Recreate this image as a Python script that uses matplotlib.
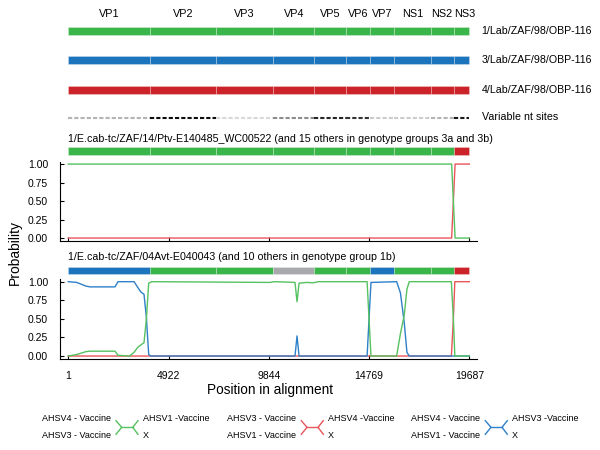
import matplotlib
matplotlib.use('Agg')
import matplotlib.pyplot as plt

plt.rcParams['font.family'] = ['Liberation Sans', 'DejaVu Sans']

# Data
genes = ['VP1', 'VP2', 'VP3', 'VP4', 'VP5', 'VP6', 'VP7', 'NS1', 'NS2', 'NS3']
gene_bounds = [1, 4000, 7270, 10055, 12085, 13610, 14820, 16005, 17800, 18960, 19687]
ref_strains = ['1/Lab/ZAF/98/OBP-116', '3/Lab/ZAF/98/OBP-116', '4/Lab/ZAF/98/OBP-116']
var_density = [0.3, 0.95, 0.15, 0.45, 0.85, 0.8, 0.2, 0.2, 0.3, 0.9]
xticks = [1, 4922, 9844, 14769, 19687]
yticks = [0.0, 0.25, 0.5, 0.75, 1.0]

p1_title = '1/E.cab-tc/ZAF/14/Ptv-E140485_WC00522 (and 15 others in genotype groups 3a and 3b)'
p1_segments = ['g', 'g', 'g', 'g', 'g', 'g', 'g', 'g', 'g', 'r']
p1_pos = [1, 18820, 18905, 18990, 19687]
p1_green = [1.0, 1.0, 0.5, 0.0, 0.0]
p1_red = [0.0, 0.0, 0.5, 1.0, 1.0]

p2_title = '1/E.cab-tc/ZAF/04Avt-E040043 (and 10 others in genotype group 1b)'
p2_segments = ['b', 'g', 'g', 'x', 'g', 'g', 'b', 'g', 'g', 'r']
p2_blue_pos = [1, 410, 880, 1066, 2293, 2441, 3232, 3418, 3570, 3718, 3835, 3948, 4050,
               11130, 11230, 11330, 14670, 14765, 14860, 16120, 16305, 16493, 16626, 16740, 19687]
p2_blue = [1.00, 0.99, 0.94, 0.93, 0.93, 1.00, 1.00, 0.92, 0.86, 0.83, 0.52, 0.02, 0.0,
           0.0, 0.27, 0.0, 0.0, 0.5, 0.99, 1.0, 0.85, 0.45, 0.05, 0.0, 0.0]
p2_green_pos = [1, 410, 880, 1066, 2293, 2441, 3000, 3232, 3418, 3570, 3718, 3835, 3948, 4100,
                9900, 10100, 11130, 11230, 11330, 11700, 12000, 12300, 14670, 14765, 14860,
                16120, 16305, 16493, 16626, 16740, 18807, 18905, 18977, 19687]
p2_green = [0.0, 0.02, 0.06, 0.065, 0.065, 0.01, 0.0, 0.05, 0.12, 0.15, 0.18, 0.5, 0.98, 1.0,
            0.99, 1.0, 0.99, 0.73, 0.98, 0.99, 0.985, 1.0, 1.0, 0.5, 0.0,
            0.0, 0.3, 0.55, 0.9, 1.0, 1.0, 0.5, 0.0, 0.0]
p2_red_pos = [1, 18807, 18905, 18977, 19687]
p2_red = [0.0, 0.0, 0.5, 1.0, 1.0]

legend_groups = [
    ('AHSV4 - Vaccine', 'AHSV3 - Vaccine', 'AHSV1 -Vaccine', 'X'),
    ('AHSV3 - Vaccine', 'AHSV1 - Vaccine', 'AHSV4 -Vaccine', 'X'),
    ('AHSV4 - Vaccine', 'AHSV1 - Vaccine', 'AHSV3 -Vaccine', 'X'),
]

bar_colors = {'g': '#3ab54a', 'b': '#1c75bc', 'r': '#cc2229', 'x': '#a7a9ac'}
line_colors = {'g': '#55c15f', 'b': '#2f80c8', 'r': '#e8555a'}
legend_colors = ['#55c15f', '#e8555a', '#2f80c8']

W, H = 600, 450
fig = plt.figure(figsize=(6, 4.5), dpi=100)


def box(x0, y0, x1, y1):
    return [x0 / W, 1 - y1 / H, (x1 - x0) / W, (y1 - y0) / H]


XLIM = (-406, 20065)
YLIM = (-0.04, 1.032)


def panel(rect, show_labels):
    ax = fig.add_axes(rect)
    ax.set_xlim(*XLIM)
    ax.set_ylim(*YLIM)
    for s in ['top', 'right']:
        ax.spines[s].set_visible(False)
    for s in ['left', 'bottom']:
        ax.spines[s].set_linewidth(0.8)
    ax.set_xticks(xticks)
    ax.set_yticks(yticks)
    ax.set_yticklabels(['%.2f' % v for v in yticks])
    ax.tick_params(direction='in', length=3, width=0.8, labelsize=7.5, pad=8.6)
    if show_labels:
        ax.set_xticklabels([str(v) for v in xticks])
    else:
        ax.set_xticklabels([])
    return ax


ax1 = panel(box(60, 161.7, 477, 241), False)
ax1.plot(p1_pos, p1_green, color=line_colors['g'], lw=1.0, zorder=3)
ax1.plot(p1_pos, p1_red, color=line_colors['r'], lw=1.0, zorder=2)

ax2 = panel(box(60, 279.3, 477, 359), True)
ax2.plot(p2_red_pos, p2_red, color=line_colors['r'], lw=1.0, zorder=2)
ax2.plot(p2_blue_pos, p2_blue, color=line_colors['b'], lw=1.0, zorder=3)
ax2.plot(p2_green_pos, p2_green, color=line_colors['g'], lw=1.0, zorder=4)

# overlay in genome x / pixel y
ov = fig.add_axes(box(60, 0, 477, 450))
ov.set_xlim(*XLIM)
ov.set_ylim(450, 0)
ov.axis('off')
ov.patch.set_alpha(0)

starts = gene_bounds[:-1]
widths = [b - a for a, b in zip(gene_bounds[:-1], gene_bounds[1:])]
mids = [(a + b) / 2 for a, b in zip(gene_bounds[:-1], gene_bounds[1:])]

for i, (name, m) in enumerate(zip(genes, mids)):
    nudge = 150 if name == 'NS3' else (-40 if name == 'NS2' else 0)
    ov.text(m + nudge, 13.8, name, ha='center', va='center', fontsize=7.8)

for yc, key in zip([30.8, 60.2, 89.7], ['g', 'b', 'r']):
    ov.barh(yc, widths, left=starts, height=8.4, color=bar_colors[key],
            edgecolor=(1, 1, 1, 0.3), linewidth=0.6)

for a, b, d in zip(gene_bounds[:-1], gene_bounds[1:], var_density):
    g = 1 - d
    ov.hlines(117.5, a, b, color=(g, g, g), lw=1.5, linestyles=(0, (2, 1)))

for yc, segs in [(151.2, p1_segments), (270.3, p2_segments)]:
    ov.barh(yc, widths, left=starts, height=7.6,
            color=[bar_colors[s] for s in segs],
            edgecolor=(1, 1, 1, 0.3), linewidth=0.6)

# text in pixel coordinates
def ftext(x, y, s, **kw):
    fig.text(x / W, 1 - y / H, s, **kw)


for yc, name in zip([30.8, 60.2, 89.7], ref_strains):
    ftext(481.7, yc, name, fontsize=7.7, va='center', ha='left')
ftext(481.7, 117.5, 'Variable nt sites', fontsize=7.7, va='center', ha='left')

ftext(68, 139.5, p1_title, fontsize=7.7, va='center', ha='left')
ftext(68, 257, p2_title, fontsize=7.7, va='center', ha='left')

ftext(15, 252.5, 'Probability', fontsize=10, rotation=90, va='center', ha='center')
ftext(270, 390, 'Position in alignment', fontsize=9.8, va='center', ha='center')

# legend glyphs
px = fig.add_axes([0, 0, 1, 1])
px.set_xlim(0, W)
px.set_ylim(H, 0)
px.axis('off')
px.patch.set_alpha(0)

for i, (g, col) in enumerate(zip(legend_groups, legend_colors)):
    dx = [0, 185.3, 369.3][i]
    ftext(41.7 + dx, 418.3, g[0], fontsize=6.5, va='center', ha='left')
    ftext(41.7 + dx, 436, g[1], fontsize=6.5, va='center', ha='left')
    ftext(142.7 + dx, 418.3, g[2], fontsize=6.5, va='center', ha='left')
    ftext(142.7 + dx, 436, g[3], fontsize=6.5, va='center', ha='left')
    cx0, cx1, cy = 121.7 + dx, 132.7 + dx, 427.3
    px.plot([cx0, cx1], [cy, cy], color=col, lw=1)
    px.plot([116 + dx, cx0, 116 + dx], [420.7, cy, 434.3], color=col, lw=1)
    px.plot([138 + dx, cx1, 138 + dx], [420.7, cy, 434.3], color=col, lw=1)

fig.savefig('out.png', dpi=100)
